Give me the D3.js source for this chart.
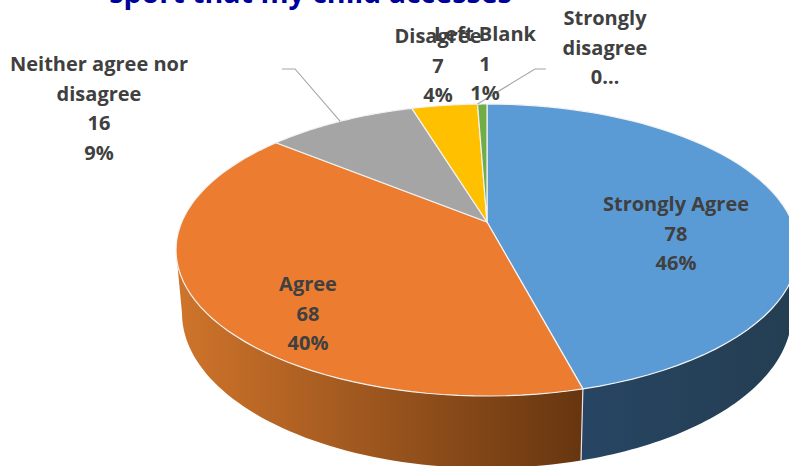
<!DOCTYPE html>
<html>
<head>
<meta charset="utf-8">
<script src="https://cdn.jsdelivr.net/npm/d3@7"></script>
<style>
  html, body { margin: 0; padding: 0; background: #fff; overflow: hidden; }
  svg { display: block; }
  text { font-family: "Open Sans", Lato, sans-serif; font-weight: 700; }
</style>
</head>
<body>
<svg></svg>
<script>
const categories = ["Strongly Agree", "Agree", "Neither agree nor disagree", "Disagree", "Left Blank", "Strongly disagree"];
const counts = [78, 68, 16, 7, 1, 0];
const topColors = ["#5b9bd5", "#eb7c30", "#a5a5a5", "#ffc000", "#70ad47", "#4472c4"];
const titleText = "sport that my child accesses";

// how each label is wrapped + where it sits (center x, first baseline)
const labelLines = [["Strongly Agree"], ["Agree"], ["Neither agree nor", "disagree"], ["Disagree"], ["Left Blank"], ["Strongly", "disagree"]];
const labelX = [676, 308, 99, 438, 485, 605];
const labelY = [211, 291, 71, 43, 41, 25];

const w = 789;
const h = 466;
const tilt = 0.192; // perspective shift, apex sits above the ellipse middle

let svg = d3.select("svg").attr("width", w).attr("height", h);

const xTop = d3.scaleLinear().domain([-1, 1]).range([176, 798]);
const yTop = d3.scaleLinear().domain([-1, 1]).range([104, 396]);
const xBot = d3.scaleLinear().domain([-1, 1]).range([182, 792]);
const yBot = d3.scaleLinear().domain([-1, 1]).range([158, 468]);

// circle angle -> point on the ellipse, with perspective
function project(a) {
  const u = Math.sin(a), v = -Math.cos(a);
  const k = 1 - tilt * v;
  return [u * Math.sqrt(1 - tilt * tilt) / k, (v - tilt) / k];
}
const apex = [0, -tilt];
const topPt = p => [xTop(p[0]), yTop(p[1])];
const botPt = p => [xBot(p[0]), yBot(p[1])];
const arcPts = (a0, a1) => d3.range(0, 61).map(i => project(a0 + (a1 - a0) * i / 60));

const pie = d3.pie().sort(null).value(d => d);
const slices = pie(counts);
const line = d3.line();

const defs = svg.append("defs");
function wallGradient(id, x0, x1, c0, c1) {
  const g = defs.append("linearGradient").attr("id", id)
    .attr("gradientUnits", "userSpaceOnUse")
    .attr("x1", x0).attr("x2", x1).attr("y1", 0).attr("y2", 0);
  g.append("stop").attr("offset", 0).attr("stop-color", c0);
  g.append("stop").attr("offset", 1).attr("stop-color", c1);
}
wallGradient("wall0", 580, 789, "#274563", "#243e52");
wallGradient("wall1", 178, 580, "#cf742b", "#673610");

// front wall, only between the two silhouette angles
const edge = Math.acos(-tilt);
const visFrom = edge, visTo = 2 * Math.PI - edge;
slices.forEach((s, i) => {
  const a0 = Math.max(s.startAngle, visFrom), a1 = Math.min(s.endAngle, visTo);
  if (a1 <= a0) return;
  const pts = arcPts(a0, a1);
  const path = pts.map(topPt).concat(pts.slice().reverse().map(botPt));
  svg.append("path")
    .attr("d", line(path) + "Z")
    .attr("fill", `url(#wall${i})`);
});

// white seam where the two walls meet
const seam = slices[0].endAngle;
svg.append("path")
  .attr("d", line([topPt(project(seam)), botPt(project(seam))]))
  .attr("stroke", "#e4e4e4").attr("stroke-width", 1.2).attr("fill", "none");

// top face
slices.filter(s => s.endAngle > s.startAngle).forEach(s => {
  const path = [topPt(apex)].concat(arcPts(s.startAngle, s.endAngle).map(topPt));
  svg.append("path")
    .attr("d", line(path) + "Z")
    .attr("fill", topColors[s.index])
    .attr("stroke", "#f2f2f2")
    .attr("stroke-width", 1.2)
    .attr("stroke-linejoin", "round");
});

// leader lines
const leaderStart = [[282, 69, 295, 69], [546, 69, 535, 69]];
[2, 4].forEach((idx, j) => {
  const mid = (slices[idx].startAngle + slices[idx].endAngle) / 2;
  const end = topPt(project(j == 0 ? mid : slices[idx].startAngle));
  const l = leaderStart[j];
  svg.append("path")
    .attr("d", line([[l[0], l[1]], [l[2], l[3]], end]))
    .attr("fill", "none").attr("stroke", "#a6a6a6").attr("stroke-width", 1.1);
});

// data labels
const fmtPct = d3.format(".0%");
const total = d3.sum(counts);
categories.forEach((c, i) => {
  const rows = labelLines[i].slice();
  if (counts[i] > 0) rows.push(counts[i], fmtPct(counts[i] / total));
  else rows.push("0…");
  svg.append("text")
    .attr("text-anchor", "middle")
    .attr("font-size", 20)
    .attr("fill", "#404040")
    .selectAll("tspan")
    .data(rows)
    .join("tspan")
    .attr("x", labelX[i])
    .attr("y", (d, k) => labelY[i] + k * 29.6)
    .text(d => d);
});

svg.append("text")
  .attr("x", 310.5).attr("y", 3)
  .attr("text-anchor", "middle")
  .attr("font-size", 28.6)
  .attr("fill", "#00009c")
  .text(titleText);
</script>
</body>
</html>
